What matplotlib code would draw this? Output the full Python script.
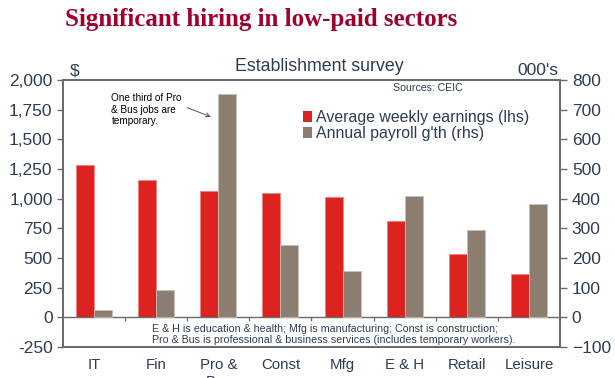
import numpy as np
import matplotlib.pyplot as plt
from matplotlib.ticker import FuncFormatter, MultipleLocator
from matplotlib.patches import Patch

# sectors and values
sectors = ['IT', 'Fin', 'Pro &\nBus', 'Const', 'Mfg', 'E & H', 'Retail', 'Leisure']
earnings = [1280, 1156, 1061, 1044, 1013, 810, 532, 366]   # $ per week (lhs)
payroll = [26, 91, 753, 245, 156, 408, 293, 381]            # 000's (rhs)

red = '#dc231f'
grey = '#8b7e71'
txt = '#2e3c52'
spine_col = '#6a6a6a'

plt.rcParams['font.family'] = ['Liberation Sans', 'DejaVu Sans']

fig = plt.figure(figsize=(6.15, 3.78), dpi=100)
ax = fig.add_axes([0.1024, 0.082, 0.8082, 0.7064])
ax2 = ax.twinx()

x = np.arange(len(sectors))
w = 0.29
ax.bar(x - w / 2, earnings, w, color=red, edgecolor='#f08080', linewidth=0.6, zorder=2)
ax2.bar(x + w / 2, payroll, w, color=grey, edgecolor='#c8beb4', linewidth=0.6, zorder=2)

ax.set_xlim(-0.5, len(sectors) - 0.5)
ax.set_ylim(-250, 2000)
ax2.set_ylim(-100, 800)
ax.yaxis.set_major_locator(MultipleLocator(250))
ax2.yaxis.set_major_locator(MultipleLocator(100))
ax.yaxis.set_major_formatter(FuncFormatter(lambda v, p: '{:,.0f}'.format(v)))

# zero line with small boundary ticks
ax.axhline(0, color=spine_col, lw=1.0, zorder=3)
ax.vlines(x[:-1] + 0.5, -30, 0, color=spine_col, lw=0.9, zorder=3)

ax.set_xticks(x)
ax.set_xticklabels(sectors, fontsize=10.8, color=txt, va='top', linespacing=1.25)
ax.tick_params(axis='x', length=0, pad=8)
ax.tick_params(axis='y', labelsize=12.5, colors=txt, length=4, color=spine_col, width=1)
ax2.tick_params(axis='y', labelsize=12.5, colors=txt, length=5, color=spine_col, width=1)

for a in (ax, ax2):
    for s in a.spines.values():
        s.set_color(spine_col)
        s.set_linewidth(1.3)

# headings
fig.text(0.106, 0.948, 'Significant hiring in low-paid sectors', fontsize=18,
         fontweight='bold', family='Liberation Serif', color='#a0002c', va='center')
fig.text(0.52, 0.823, 'Establishment survey', fontsize=12.8, color=txt, ha='center', va='center')
fig.text(0.122, 0.813, '$', fontsize=12.5, color=txt, ha='center', va='center')
fig.text(0.908, 0.813, "000's", fontsize=12.5, color=txt, ha='right', va='center')
ax.text(0.734, 0.970, 'Sources: CEIC', transform=ax.transAxes, fontsize=7.6, color=txt,
        ha='center', va='center')

# annotation
ax.annotate('One third of Pro\n& Bus jobs are\ntemporary.', xy=(1.88, 1690), xytext=(0.28, 1890),
            fontsize=7.2, color='black', va='top', linespacing=1.2,
            arrowprops=dict(arrowstyle='->', color='#555555', lw=0.7, relpos=(1.0, 0.62),
                            shrinkA=2, shrinkB=0))

ax.text(0.93, -52, 'E & H is education & health; Mfg is manufacturing; Const is construction;\n'
        'Pro & Bus is professional & business services (includes temporary workers).',
        fontsize=7.7, color=txt, va='top', linespacing=1.15)

handles = [Patch(facecolor=red, edgecolor='none'), Patch(facecolor=grey, edgecolor='none')]
leg = ax.legend(handles, ['Average weekly earnings (lhs)', "Annual payroll g'th (rhs)"],
                loc='upper left', bbox_to_anchor=(0.47, 0.91), frameon=False,
                fontsize=11.4, handlelength=0.6, handleheight=0.7, handletextpad=0.25,
                labelspacing=0.05, borderaxespad=0)
for t in leg.get_texts():
    t.set_color(txt)

fig.savefig('out.png', dpi=100)
